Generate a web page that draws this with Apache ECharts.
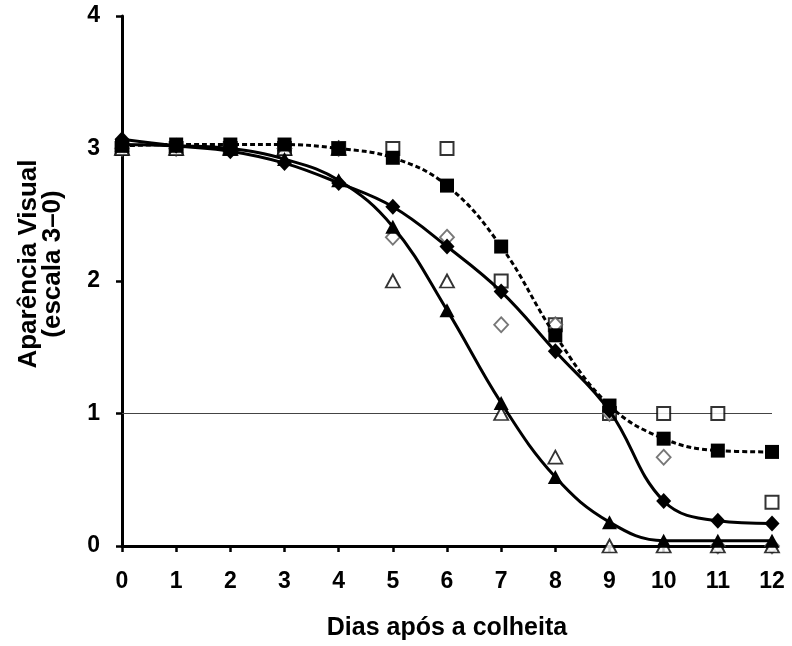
<!DOCTYPE html>
<html>
<head>
<meta charset="utf-8">
<script src="https://cdn.jsdelivr.net/npm/echarts@6/dist/echarts.min.js"></script>
<style>
  html, body { margin: 0; padding: 0; background: #fff; }
  #chart { width: 792px; height: 646px; }
</style>
</head>
<body>
<div id="chart"></div>
<script>
// Days after harvest
const days = [0, 1, 2, 3, 4, 5, 6, 7, 8, 9, 10, 11, 12];

// Visual appearance scores (scale 3-0): observed and fitted curves
const observedSquare   = [3, 3, 3, 3, 3, 3, 3, 2, 1.67, 1, 1, 1, 0.33];
const fittedSquare     = [3.02, 3.03, 3.03, 3.03, 3.00, 2.93, 2.72, 2.26, 1.59, 1.06, 0.81, 0.72, 0.71];
const observedDiamond  = [3, 3, 3, 3, 3, 2.33, 2.33, 1.67, 1.67, 1, 0.67, 0, 0];
const fittedDiamond    = [3.07, 3.02, 2.98, 2.89, 2.74, 2.56, 2.26, 1.92, 1.47, 1.02, 0.34, 0.19, 0.17];
const observedTriangle = [3, 3, 3, 3, 3, 2, 2, 1, 0.67, 0, 0, 0, 0];
const fittedTriangle   = [3.03, 3.02, 3.00, 2.92, 2.76, 2.41, 1.78, 1.08, 0.52, 0.18, 0.04, 0.04, 0.04];

// Acceptability limit
const limitDays  = [0, 12];
const limitValue = [1, 1];

const yTicks = [0, 1, 2, 3, 4];
const xTicks = days;

const pairs = (xs, ys) => xs.map((x, i) => [x, ys[i]]);
const FONT = '"Liberation Sans", Arial, sans-serif';

const chart = echarts.init(document.getElementById('chart'), null, { renderer: 'canvas' });

const openStyle = (color, w) => ({ color: '#fff', borderColor: color, borderWidth: w });

chart.setOption({
  animation: false,
  backgroundColor: '#fff',
  grid: { left: 122, right: 20, top: 16, bottom: 98, containLabel: false },
  xAxis: {
    type: 'value',
    min: xTicks[0],
    max: xTicks[xTicks.length - 1],
    interval: 1,
    name: 'Dias após a colheita',
    nameLocation: 'middle',
    nameGap: 70,
    nameTextStyle: { fontFamily: FONT, fontWeight: 'bold', fontSize: 25, color: '#000' },
    axisLine: { lineStyle: { color: '#000', width: 3 } },
    axisTick: { inside: false, length: 6, lineStyle: { color: '#000', width: 2.5 } },
    axisLabel: { margin: 24, fontFamily: FONT, fontWeight: 'bold', fontSize: 23, color: '#000' },
    splitLine: { show: false }
  },
  yAxis: {
    type: 'value',
    min: yTicks[0],
    max: yTicks[yTicks.length - 1],
    interval: 1,
    axisLine: { show: true, lineStyle: { color: '#000', width: 3 } },
    axisTick: { show: true, inside: false, length: 6, lineStyle: { color: '#000', width: 2.5 } },
    axisLabel: { margin: 22, fontFamily: FONT, fontWeight: 'bold', fontSize: 23, color: '#000' },
    splitLine: { show: false }
  },
  graphic: [{
    type: 'text',
    x: 41,
    y: 264,
    rotation: Math.PI / 2,
    style: {
      text: 'Aparência Visual\n(escala 3–0)',
      font: 'bold 26px ' + FONT,
      fill: '#000',
      align: 'center',
      verticalAlign: 'middle',
      lineHeight: 24
    }
  }],
  series: [
    {
      name: 'limite',
      type: 'line',
      data: pairs(limitDays, limitValue),
      showSymbol: false,
      lineStyle: { color: '#444', width: 1 },
      silent: true,
      z: 1
    },
    {
      name: 'obs-quadrado',
      type: 'scatter',
      data: pairs(days, observedSquare),
      symbol: 'rect',
      symbolSize: 13,
      itemStyle: openStyle('#000', 2),
      z: 2
    },
    {
      name: 'obs-losango',
      type: 'scatter',
      data: pairs(days, observedDiamond),
      symbol: 'diamond',
      symbolSize: [14, 15],
      itemStyle: openStyle('#555', 1.8),
      z: 2
    },
    {
      name: 'obs-triangulo',
      type: 'scatter',
      data: pairs(days, observedTriangle),
      symbol: 'triangle',
      symbolSize: [14, 13],
      itemStyle: openStyle('#000', 1.8),
      z: 2
    },
    {
      name: 'ajuste-quadrado',
      type: 'line',
      data: pairs(days, fittedSquare),
      smooth: 0.4,
      symbol: 'rect',
      symbolSize: 14,
      showAllSymbol: true,
      itemStyle: { color: '#000' },
      lineStyle: { color: '#000', width: 3, type: [5, 3] },
      z: 3
    },
    {
      name: 'ajuste-losango',
      type: 'line',
      data: pairs(days, fittedDiamond),
      smooth: 0.4,
      symbol: 'diamond',
      symbolSize: [15, 16],
      showAllSymbol: true,
      itemStyle: { color: '#000' },
      lineStyle: { color: '#000', width: 3 },
      z: 3
    },
    {
      name: 'ajuste-triangulo',
      type: 'line',
      data: pairs(days, fittedTriangle),
      smooth: 0.4,
      symbol: 'triangle',
      symbolSize: [15, 14],
      showAllSymbol: true,
      itemStyle: { color: '#000' },
      lineStyle: { color: '#000', width: 3 },
      z: 3
    }
  ]
});
</script>
</body>
</html>
